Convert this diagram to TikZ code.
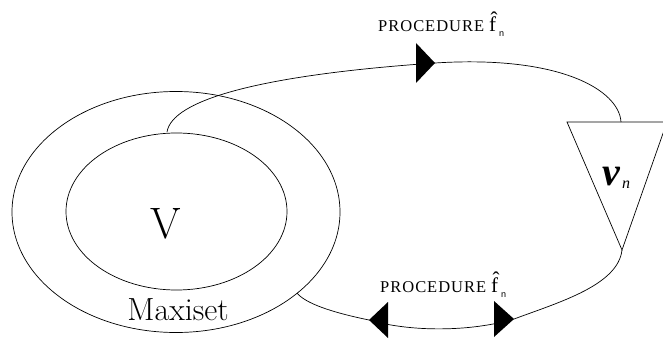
\documentclass[tikz,border=0pt]{standalone}
\usepackage{fontspec}
\usetikzlibrary{shapes.geometric}
\newfontfamily\tms[LetterSpace=6]{Liberation Serif}
\newfontfamily\tmsf{Liberation Serif}
\newfontfamily\lsans{Liberation Sans}
\tikzset{
  curve/.style={line width=0.7pt},
  tip/.style={fill=black,draw=none},
  proc/.style={anchor=base west,inner sep=0pt,font=\tms\fontsize{16.5}{18}\selectfont},
  fhat/.style={anchor=base west,inner sep=0pt,font=\tmsf\fontsize{21}{22}\selectfont},
  subn/.style={anchor=base west,inner sep=0pt,font=\lsans\fontsize{9}{10}\selectfont},
}
\begin{document}
\begin{tikzpicture}[x=1pt,y=-1pt]
\clip (0,0) rectangle (663,339);
% ellipses
\node[ellipse,draw,line width=0.7pt,minimum width=328pt,minimum height=241pt,inner sep=0pt] (maxi) at (176,212) {};
\node[ellipse,draw,line width=0.7pt,minimum width=221pt,minimum height=157pt,inner sep=0pt] (vset) at (176.5,211.5) {};
\node[anchor=base,inner sep=0pt,font=\fontsize{44}{46}\selectfont] (vlab) at (166,238) {V};
\node[anchor=base,inner sep=0pt,font=\fontsize{32}{34}\selectfont] (mlab) at (178,320) {Maxiset};
% triangle
\coordinate (tl) at (567,122);
\coordinate (tr) at (667,122);
\coordinate (tb) at (622,250);
\draw[curve] (tl) -- (tr) -- (tb) -- cycle;
\node[anchor=base west,inner sep=0pt,font=\tmsf\bfseries\itshape\fontsize{40}{42}\selectfont] (vn) at (602,185) {v};
\node[anchor=base west,inner sep=0pt,font=\tmsf\itshape\fontsize{16}{17}\selectfont] (vsub) at (622,189) {n};
% top connector
\coordinate (s1) at (167,132);
\coordinate (a1) at (435,63);
\coordinate (e1) at (621,122);
\draw[curve] (s1) .. controls (172,100) and (260,75) .. (a1) .. controls (560,55) and (619,90) .. (e1);
\fill[tip] (416,43) -- (a1) -- (416,83) -- cycle;
% bottom connector
\coordinate (a2) at (514,319);
\coordinate (a3) at (369,320);
\coordinate (s2) at (297,293);
\draw[curve] (tb) .. controls (618,285) and (560,302) .. (a2) .. controls (470,332) and (410,332) .. (a3) .. controls (330,312) and (305,303) .. (s2);
\fill[tip] (494,301) -- (a2) -- (494,337) -- cycle;
\fill[tip] (388,302) -- (a3) -- (388,338) -- cycle;
% labels
\node[proc] (p1) at (378,32) {PROCEDURE};
\node[fhat] (f1) at (489,32) {\^{f}};
\node[subn] (n1) at (499,37) {n};
\node[proc] (p2) at (380,292) {PROCEDURE};
\node[fhat] (f2) at (491,292) {\^{f}};
\node[subn] (n2) at (501,297) {n};
\end{tikzpicture}
\end{document}
